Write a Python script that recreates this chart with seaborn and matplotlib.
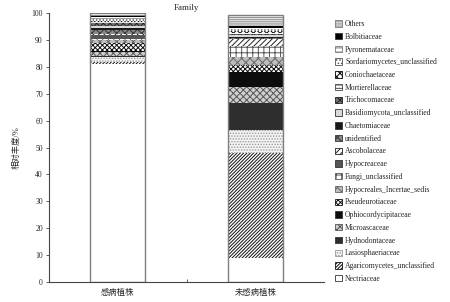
import numpy as np
import pandas as pd
import matplotlib
matplotlib.use("Agg")
import matplotlib.pyplot as plt
from matplotlib.patches import Patch
import seaborn as sns

categories = ["感病植株", "未感病植株"]

# stacking order: bottom -> top
families = [
    "Nectriaceae", "Agaricomycetes_unclassified", "Lasiosphaeriaceae", "Hydnodontaceae",
    "Microascaceae", "Ophiocordycipitaceae", "Pseudeurotiaceae", "Hypocreales_Incertae_sedis",
    "Fungi_unclassified", "Hypocreaceae", "Ascobolaceae", "unidentified", "Chaetomiaceae",
    "Basidiomycota_unclassified", "Trichocomaceae", "Mortierellaceae", "Coniochaetaceae",
    "Sordariomycetes_unclassified", "Pyronemataceae", "Bolbitiaceae", "Others",
]

diseased = [81.0, 0.8, 2.0, 0.2, 1.5, 0.3, 3.0, 1.0, 0.5, 1.5, 0.5, 1.5, 0.5,
            0.8, 1.0, 0.5, 0.5, 0.5, 0.8, 0.3, 1.3]
healthy = [8.8, 39.0, 8.7, 9.9, 6.2, 5.6, 2.3, 3.3, 3.8, 0.3, 2.3, 0.5, 0.5,
           0.5, 0.5, 0.5, 0.5, 0.7, 0.6, 0.7, 4.0]

# (facecolor, hatch, hatch colour)
styles = {
    "Nectriaceae": ("white", None, "white"),
    "Agaricomycetes_unclassified": ("white", "//////////", "#111111"),
    "Lasiosphaeriaceae": ("#f4f4f4", "......", "#9a9a9a"),
    "Hydnodontaceae": ("#2e2e2e", None, "#2e2e2e"),
    "Microascaceae": ("#cfcfcf", "xxxxx", "#555555"),
    "Ophiocordycipitaceae": ("#0d0d0d", None, "#0d0d0d"),
    "Pseudeurotiaceae": ("white", "xxxxxxx", "#111111"),
    "Hypocreales_Incertae_sedis": ("#bdbdbd", "xxxx", "#666666"),
    "Fungi_unclassified": ("white", "+++", "#555555"),
    "Hypocreaceae": ("#555555", None, "#555555"),
    "Ascobolaceae": ("white", "//////", "#222222"),
    "unidentified": ("#888888", "xxxx", "#333333"),
    "Chaetomiaceae": ("#1a1a1a", None, "#1a1a1a"),
    "Basidiomycota_unclassified": ("#d9d9d9", None, "#d9d9d9"),
    "Trichocomaceae": ("#777777", "xxxxx", "#222222"),
    "Mortierellaceae": ("white", "-----", "#444444"),
    "Coniochaetaceae": ("white", "xxxxx", "#000000"),
    "Sordariomycetes_unclassified": ("white", ".....", "#555555"),
    "Pyronemataceae": ("white", "----", "#777777"),
    "Bolbitiaceae": ("#000000", None, "#000000"),
    "Others": ("white", "--------", "#777777"),
}

plt.rcParams["hatch.linewidth"] = 0.7
sns.set_style("white")
plt.rcParams["font.family"] = ["Liberation Serif", "Noto Sans CJK SC", "DejaVu Sans"]

fig = plt.figure(figsize=(4.5, 3.02), dpi=100)
ax = fig.add_axes([0.109, 0.066, 0.611, 0.891])

df = pd.DataFrame({"category": np.repeat(categories, len(families)),
                   "family": families * 2,
                   "value": diseased + healthy})
df["cum"] = df.groupby("category")["value"].cumsum()

# draw cumulative layers from top to bottom so each lower layer overlays
for fam in families[::-1]:
    sub = df[df["family"] == fam]
    fc, h, hc = styles[fam]
    sns.barplot(data=sub, x="category", y="cum", order=categories,
                color=fc, hatch=h, edgecolor=hc, linewidth=0,
                width=0.4, saturation=1, ax=ax, zorder=2)

# outline of each bar
tot = df.groupby("category", sort=False)["value"].sum().reset_index()
sns.barplot(data=tot, x="category", y="value", order=categories, fill=False,
            edgecolor="#7f7f7f", linewidth=1.0, width=0.4, ax=ax, zorder=3)

ax.set_xlim(-0.5, 1.5)
ax.set_ylim(0, 100)
ax.set_yticks(np.arange(0, 101, 10))
ax.tick_params(axis="y", labelsize=5.5, length=2.5, width=0.6, direction="out",
               color="#444444", pad=2, left=True)
ax.tick_params(axis="x", labelsize=6, length=0, pad=5)
ax.set_xticks([0.5], minor=True)
ax.tick_params(axis="x", which="minor", length=2.5, width=0.6, direction="in",
               color="#444444", bottom=True)
ax.set_xlabel("")
ax.set_ylabel("相对丰度/%", fontsize=6, labelpad=8)
ax.set_title("Family", fontsize=6.5, pad=2)
for s in ["top", "right"]:
    ax.spines[s].set_visible(False)
for s in ["left", "bottom"]:
    ax.spines[s].set_color("#444444")
    ax.spines[s].set_linewidth(0.8)

handles = []
for fam in families[::-1]:
    fc, h, hc = styles[fam]
    handles.append(Patch(facecolor=fc, hatch=h, edgecolor=hc if h else "#333333",
                         linewidth=0.6, label=fam))
leg = ax.legend(handles=handles, loc="upper left", bbox_to_anchor=(1.03, 0.985),
                frameon=False, fontsize=5.5, handlelength=0.9, handleheight=0.9,
                handletextpad=0.4, labelspacing=0.62, borderaxespad=0)

fig.savefig("out.png", dpi=100)
